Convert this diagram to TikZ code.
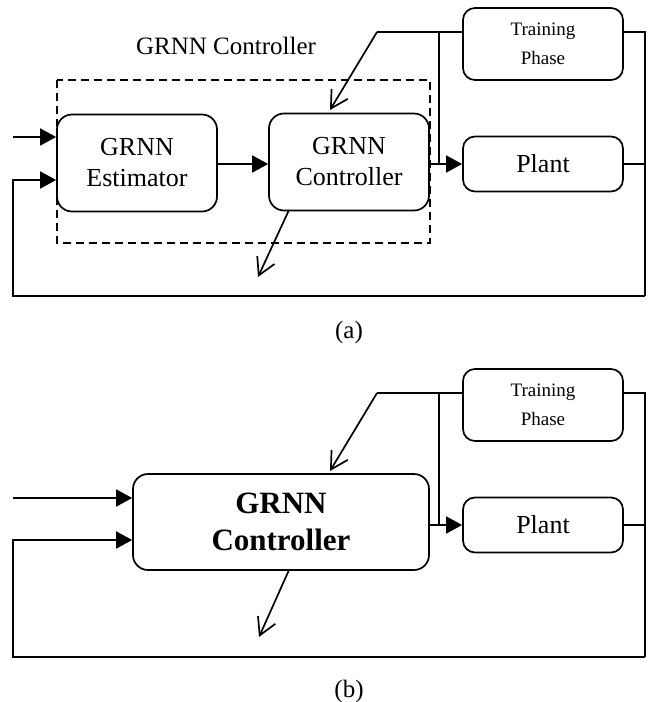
\documentclass[tikz,border=0pt]{standalone}
\usepackage{fontspec}
\setmainfont{Liberation Serif}
\usetikzlibrary{arrows.meta}
\begin{document}
\begin{tikzpicture}[x=1pt,y=-1pt,line width=1.7pt,
  blk/.style={draw, rounded corners=15pt, align=center, inner sep=0pt,
    font=\fontsize{26}{31}\selectfont},
  smallblk/.style={draw, rounded corners=12pt, align=center, inner sep=0pt,
    minimum width=160pt, font=\fontsize{19}{29}\selectfont},
  plantblk/.style={draw, rounded corners=12pt, align=center, inner sep=0pt,
    minimum width=160pt, minimum height=55pt, font=\fontsize{26}{31}\selectfont},
  tri/.style={-{Triangle[length=16pt,width=17pt]}},
  barb/.style={-{Straight Barb[length=17pt,width=19pt]}},
  lbl/.style={inner sep=0pt, font=\fontsize{25}{30}\selectfont},
  grp/.style={dash pattern=on 8pt off 5pt}]
\useasboundingbox (0,0) rectangle (650,702);

% ---------------- (a) ----------------
\node[lbl] (atitle) at (226,46) {GRNN Controller};
\draw[grp] (57,80) rectangle (430,243);
\node[blk, minimum width=160pt, minimum height=97pt] (est) at (137,163) {GRNN\\Estimator};
\node[blk, minimum width=160pt, minimum height=97pt] (ctrl) at (349,162) {GRNN\\Controller};
\node[smallblk, minimum height=72pt] (tra) at (543,44) {Training\\Phase};
\node[plantblk] (pla) at (543,164) {Plant};

\coordinate (ain1) at (13,137);
\coordinate (ain2) at (13,180);
\coordinate (aout) at (429,164);
\coordinate (ajn) at (439,164);
\coordinate (atop) at (377,32);
\coordinate (ajt) at (439,32);
\coordinate (atip) at (330,110);
\coordinate (ar1) at (645,32);
\coordinate (ar3) at (645,296);
\coordinate (al3) at (13,296);
\coordinate (ad1) at (289,210);
\coordinate (ad2) at (258,277);

\draw[tri] (ain1) -- (ain1 -| est.west);
\draw[tri] (ar3) -- (al3) -- (ain2) -- (ain2 -| est.west);
\draw[tri] (est.east |- ajn) -- (ctrl.west |- ajn);
\draw[tri] (aout) -- (aout -| pla.west);
\draw (ajn) -- (ajt);
\draw (atop) -- (atop -| tra.west);
\draw[barb] (atop) -- (atip);
\draw (ar1 -| tra.east) -- (ar1) -- (ar3);
\draw (pla.east) -- (pla.east -| ar1);
\draw[barb] (ad1) -- (ad2);
\node[lbl, anchor=base] (alab) at (349,338) {(a)};

% ---------------- (b) ----------------
\node[blk, minimum width=296pt, minimum height=96pt,
  font=\fontsize{31}{37}\selectfont\bfseries] (bctrl) at (281,522) {GRNN\\Controller};
\node[smallblk, minimum height=72pt] (btra) at (543,405) {Training\\Phase};
\node[plantblk] (bpla) at (543,525) {Plant};

\coordinate (bin1) at (13,498);
\coordinate (bin2) at (13,540);
\coordinate (bout) at (429,525);
\coordinate (bjn) at (439,525);
\coordinate (btop) at (377,393);
\coordinate (bjt) at (439,393);
\coordinate (btip) at (330,471);
\coordinate (br1) at (645,393);
\coordinate (br3) at (645,657);
\coordinate (bl3) at (13,657);
\coordinate (bd1) at (289,570);
\coordinate (bd2) at (259,637);

\draw[tri] (bin1) -- (bin1 -| bctrl.west);
\draw[tri] (br3) -- (bl3) -- (bin2) -- (bin2 -| bctrl.west);
\draw[tri] (bout) -- (bout -| bpla.west);
\draw (bjn) -- (bjt);
\draw (btop) -- (btop -| btra.west);
\draw[barb] (btop) -- (btip);
\draw (br1 -| btra.east) -- (br1) -- (br3);
\draw (bpla.east) -- (bpla.east -| br1);
\draw[barb] (bd1) -- (bd2);
\node[lbl, anchor=base] (blab) at (349,697) {(b)};
\end{tikzpicture}
\end{document}
